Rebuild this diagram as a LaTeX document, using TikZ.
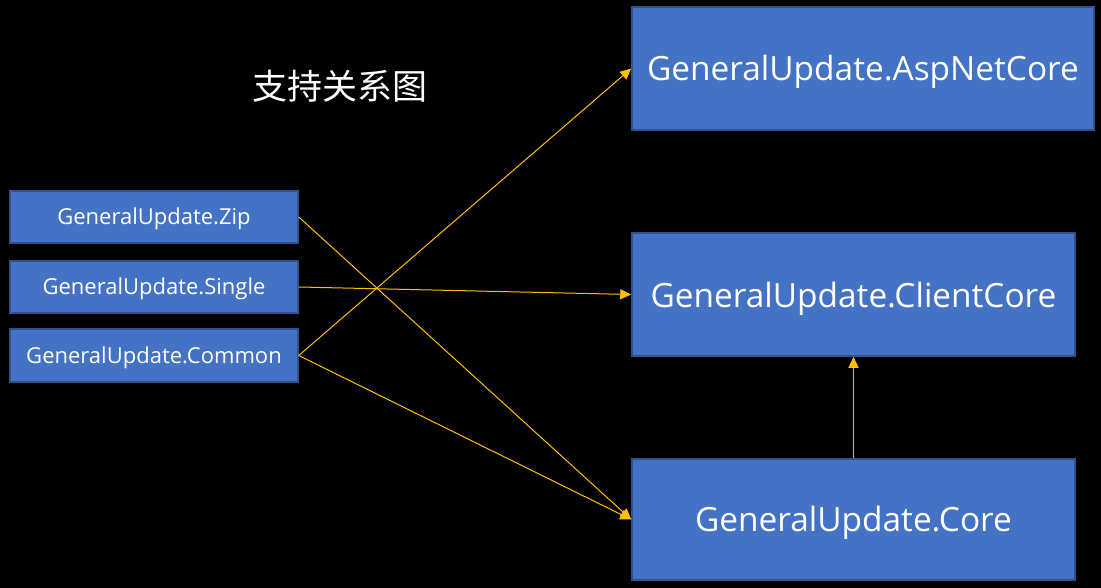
\documentclass[tikz,border=0pt]{standalone}
\usepackage{fontspec}
\setmainfont{Open Sans}
\newfontfamily\cjk{Noto Sans CJK SC}
\usetikzlibrary{arrows.meta}
\definecolor{boxfill}{HTML}{4472C4}
\definecolor{boxline}{HTML}{2F528F}
\definecolor{arr}{HTML}{FFC000}
\begin{document}
\begin{tikzpicture}[x=1pt,y=-1pt,
  smallbox/.style={draw=boxline,line width=1.5pt,fill=boxfill,text=white,inner sep=0pt,minimum width=288pt,minimum height=52pt,font=\fontsize{22}{24}\selectfont},
  bigbox/.style={draw=boxline,line width=1.5pt,fill=boxfill,text=white,inner sep=0pt,minimum height=122pt,font=\fontsize{33.4}{36}\selectfont},
  lbl/.style={text=white,inner sep=0pt},
  conn/.style={draw=arr,line width=1pt,-{Triangle[length=11pt,width=10pt]}}]
\fill[black] (0,0) rectangle (1101,588);
\useasboundingbox (0,0) rectangle (1101,588);
\node[text=white,font=\cjk\fontsize{35}{40}\selectfont] (title) at (340,86) {支持关系图};
\node[smallbox] (zip) at (154,217) {};
\node[smallbox] (single) at (154,287) {};
\node[smallbox,minimum height=53pt] (common) at (154,355.5) {};
\node[bigbox,minimum width=462pt,minimum height=123pt] (asp) at (863,68.5) {};
\node[bigbox,minimum width=443pt,minimum height=123pt] (client) at (853.5,294.5) {};
\node[bigbox,minimum width=443pt,minimum height=121pt] (core) at (853.5,519.5) {};
\node[lbl,font=\fontsize{22}{24}\selectfont] (zipt) at ([yshift=-2pt]zip.center) {GeneralUpdate.Zip};
\node[lbl,font=\fontsize{22}{24}\selectfont] (singlet) at ([yshift=-2pt]single.center) {GeneralUpdate.Single};
\node[lbl,font=\fontsize{22}{24}\selectfont] (commont) at ([yshift=-2pt]common.center) {GeneralUpdate.Common};
\node[lbl,font=\fontsize{33.4}{36}\selectfont] (aspt) at ([yshift=-3pt]asp.center) {GeneralUpdate.AspNetCore};
\node[lbl,font=\fontsize{33.4}{36}\selectfont] (clientt) at ([yshift=-4pt]client.center) {GeneralUpdate.ClientCore};
\node[lbl,font=\fontsize{33.4}{36}\selectfont] (coret) at ([yshift=-3pt]core.center) {GeneralUpdate.Core};
\draw[conn] (zip.east) -- (core.west);
\draw[conn] (single.east) -- (client.west);
\draw[conn] (common.east) -- (asp.west);
\draw[conn] (common.east) -- (core.west);
\draw[conn] (core.north) -- (client.south);
\end{tikzpicture}
\end{document}
